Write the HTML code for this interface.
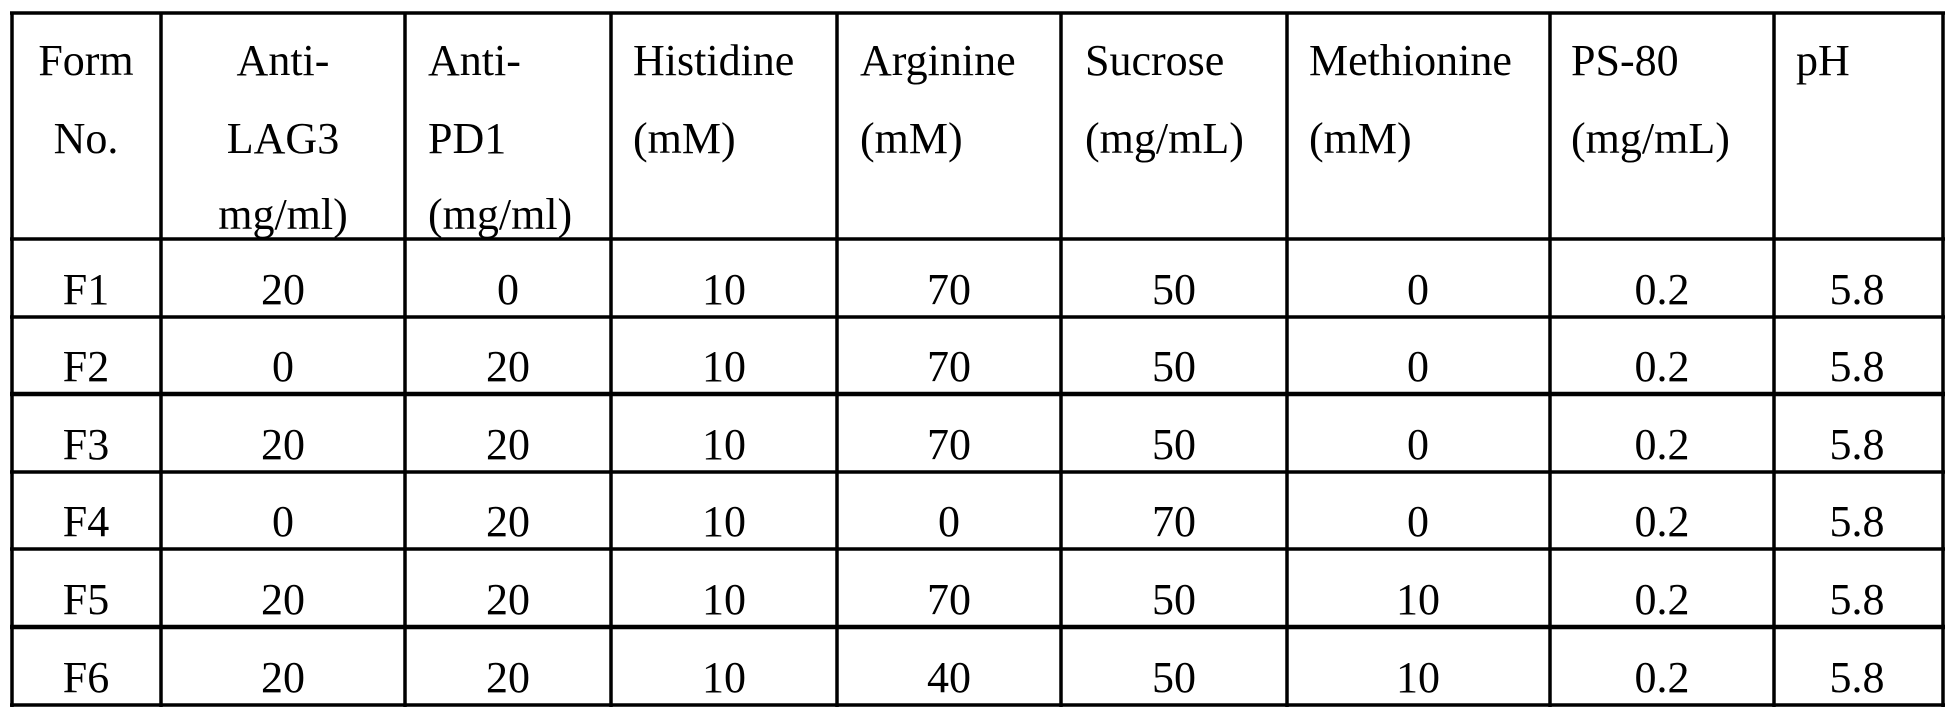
<!DOCTYPE html>
<html><head><meta charset="utf-8"><style>
html,body{margin:0;padding:0;background:#fff;width:1955px;height:714px;overflow:hidden}
svg text{font-family:"Liberation Serif",serif;font-size:44px;fill:#000}
</style></head><body>
<svg width="1955" height="714" viewBox="0 0 1955 714" xmlns="http://www.w3.org/2000/svg">
<g stroke="#000" stroke-width="3.5">
<line x1="10" y1="13" x2="1945" y2="13"/>
<line x1="10" y1="239" x2="1945" y2="239"/>
<line x1="10" y1="317" x2="1945" y2="317"/>
<line x1="10" y1="394" x2="1945" y2="394" stroke-width="4.5"/>
<line x1="10" y1="472" x2="1945" y2="472"/>
<line x1="10" y1="549" x2="1945" y2="549"/>
<line x1="10" y1="627" x2="1945" y2="627" stroke-width="4.5"/>
<line x1="10" y1="705" x2="1945" y2="705"/>
<line x1="12" y1="12" x2="12" y2="707"/>
<line x1="161" y1="12" x2="161" y2="707"/>
<line x1="405" y1="12" x2="405" y2="707"/>
<line x1="611" y1="12" x2="611" y2="707"/>
<line x1="837" y1="12" x2="837" y2="707"/>
<line x1="1061" y1="12" x2="1061" y2="707"/>
<line x1="1287" y1="12" x2="1287" y2="707"/>
<line x1="1550" y1="12" x2="1550" y2="707"/>
<line x1="1774" y1="12" x2="1774" y2="707"/>
<line x1="1943" y1="12" x2="1943" y2="707"/>
</g>
<g text-anchor="middle">
<text x="86" y="75">Form</text><text x="86" y="153">No.</text>
<text x="283" y="75">Anti-</text><text x="283" y="153">LAG3</text><text x="283" y="229">mg/ml)</text>
</g>
<g>
<text x="428" y="75">Anti-</text><text x="428" y="153">PD1</text><text x="428" y="229">(mg/ml)</text>
<text x="633" y="75">Histidine</text><text x="633" y="153">(mM)</text>
<text x="860" y="75">Arginine</text><text x="860" y="153">(mM)</text>
<text x="1085" y="75">Sucrose</text><text x="1085" y="153">(mg/mL)</text>
<text x="1309" y="75">Methionine</text><text x="1309" y="153">(mM)</text>
<text x="1571" y="75">PS-80</text><text x="1571" y="153">(mg/mL)</text>
<text x="1796" y="75">pH</text>
</g>
<g text-anchor="middle">
<text x="86" y="304">F1</text><text x="283" y="304">20</text><text x="508" y="304">0</text><text x="724" y="304">10</text><text x="949" y="304">70</text><text x="1174" y="304">50</text><text x="1418" y="304">0</text><text x="1662" y="304">0.2</text><text x="1857" y="304">5.8</text>
<text x="86" y="381">F2</text><text x="283" y="381">0</text><text x="508" y="381">20</text><text x="724" y="381">10</text><text x="949" y="381">70</text><text x="1174" y="381">50</text><text x="1418" y="381">0</text><text x="1662" y="381">0.2</text><text x="1857" y="381">5.8</text>
<text x="86" y="459">F3</text><text x="283" y="459">20</text><text x="508" y="459">20</text><text x="724" y="459">10</text><text x="949" y="459">70</text><text x="1174" y="459">50</text><text x="1418" y="459">0</text><text x="1662" y="459">0.2</text><text x="1857" y="459">5.8</text>
<text x="86" y="536">F4</text><text x="283" y="536">0</text><text x="508" y="536">20</text><text x="724" y="536">10</text><text x="949" y="536">0</text><text x="1174" y="536">70</text><text x="1418" y="536">0</text><text x="1662" y="536">0.2</text><text x="1857" y="536">5.8</text>
<text x="86" y="614">F5</text><text x="283" y="614">20</text><text x="508" y="614">20</text><text x="724" y="614">10</text><text x="949" y="614">70</text><text x="1174" y="614">50</text><text x="1418" y="614">10</text><text x="1662" y="614">0.2</text><text x="1857" y="614">5.8</text>
<text x="86" y="692">F6</text><text x="283" y="692">20</text><text x="508" y="692">20</text><text x="724" y="692">10</text><text x="949" y="692">40</text><text x="1174" y="692">50</text><text x="1418" y="692">10</text><text x="1662" y="692">0.2</text><text x="1857" y="692">5.8</text>
</g>
</svg>
</body></html>
